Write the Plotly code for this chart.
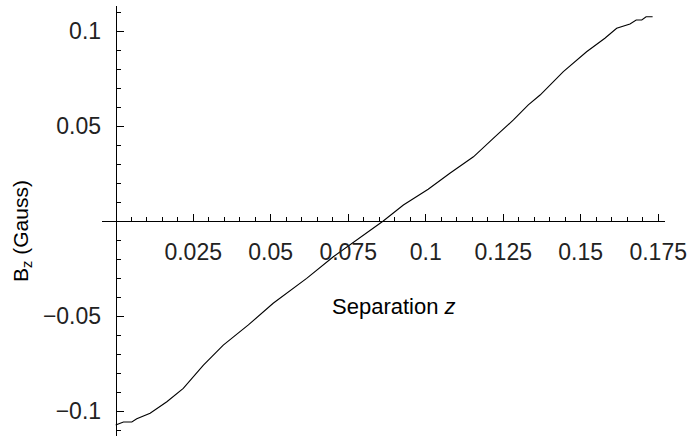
import plotly.graph_objects as go

# Curve data
z_sep = [0.0, 0.0025, 0.0052, 0.0068, 0.0111, 0.0165, 0.0218, 0.0283, 0.0347,
         0.0428, 0.0508, 0.0616, 0.0702, 0.0777, 0.0863, 0.0928, 0.1008, 0.1078,
         0.1154, 0.1224, 0.1283, 0.1331, 0.1369, 0.1444, 0.1519, 0.1578, 0.1616,
         0.1659, 0.1679, 0.1697, 0.1711, 0.1732]
bz_gauss = [-0.1074, -0.1058, -0.1058, -0.1041, -0.1012, -0.0951, -0.0881, -0.0758,
            -0.0653, -0.0547, -0.0433, -0.0302, -0.0188, -0.0100, 0.0, 0.0084,
            0.0167, 0.0251, 0.0338, 0.0444, 0.0532, 0.0611, 0.0663, 0.0786,
            0.0891, 0.0962, 0.1014, 0.1037, 0.1058, 0.1058, 0.1075, 0.1075]

# Tick labels
x_tickvals = [0.025, 0.05, 0.075, 0.1, 0.125, 0.15, 0.175]
x_ticktext = ["0.025", "0.05", "0.075", "0.1", "0.125", "0.15", "0.175"]
x_minor = [i * 0.005 for i in range(1, 36) if i % 5 != 0]
y_tickvals = [-0.1, -0.05, 0.05, 0.1]
y_ticktext = ["\u22120.1", "\u22120.05", "0.05", "0.1"]
y_minor = [i * 0.01 for i in range(-11, 12) if i % 5 != 0]

W, H = 688, 436
ml, mr, mt, mb = 102, 23, 6, 0
px_per_x = 3100.0
px_per_y = 1900.0
x0_px, y0_px = 115.7, 221.0
x_range = [(ml - x0_px) / px_per_x, (W - mr - x0_px) / px_per_x]
y_range = [(y0_px - (H - mb)) / px_per_y, (y0_px - mt) / px_per_y]

tick_font = dict(family="Liberation Sans", size=23, color="#222222")

fig = go.Figure()
fig.add_trace(go.Scatter(x=z_sep, y=bz_gauss, mode="lines",
                         line=dict(color="black", width=1.1),
                         hoverinfo="skip", showlegend=False))

fig.update_layout(
    width=W, height=H,
    margin=dict(l=ml, r=mr, t=mt, b=mb, pad=0),
    plot_bgcolor="white", paper_bgcolor="white",
    xaxis=dict(range=x_range, anchor="free",
               position=(0 - y_range[0]) / (y_range[1] - y_range[0]),
               showgrid=False, zeroline=False, showline=True,
               linecolor="black", linewidth=1,
               tickmode="array", tickvals=x_tickvals, ticktext=x_ticktext,
               ticks="inside", ticklen=7, tickwidth=1, tickcolor="black",
               ticklabelstandoff=10, tickfont=tick_font,
               minor=dict(tickvals=x_minor, ticks="inside", ticklen=4,
                          tickwidth=1, tickcolor="black", showgrid=False)),
    yaxis=dict(range=y_range, anchor="free",
               position=(0 - x_range[0]) / (x_range[1] - x_range[0]),
               showgrid=False, zeroline=False, showline=True,
               linecolor="black", linewidth=1,
               tickmode="array", tickvals=y_tickvals, ticktext=y_ticktext,
               ticks="inside", ticklen=7, tickwidth=1, tickcolor="black",
               ticklabelstandoff=10, tickfont=tick_font,
               minor=dict(tickvals=y_minor, ticks="inside", ticklen=4,
                          tickwidth=1, tickcolor="black", showgrid=False)),
    annotations=[
        dict(text="Separation <i>z</i>", xref="x", yref="y",
             x=(330 - x0_px) / px_per_x, y=(y0_px - 306) / px_per_y,
             xanchor="left", yanchor="middle", showarrow=False,
             font=dict(family="Liberation Sans", size=22, color="black")),
        dict(text="B<sub>z</sub> (Gauss)", xref="paper", yref="y",
             x=(22 - ml) / (W - ml - mr), y=(y0_px - 231) / px_per_y,
             xanchor="center", yanchor="middle", textangle=-90, showarrow=False,
             font=dict(family="Liberation Sans", size=21, color="black")),
    ],
)

fig.write_html("out.html")
